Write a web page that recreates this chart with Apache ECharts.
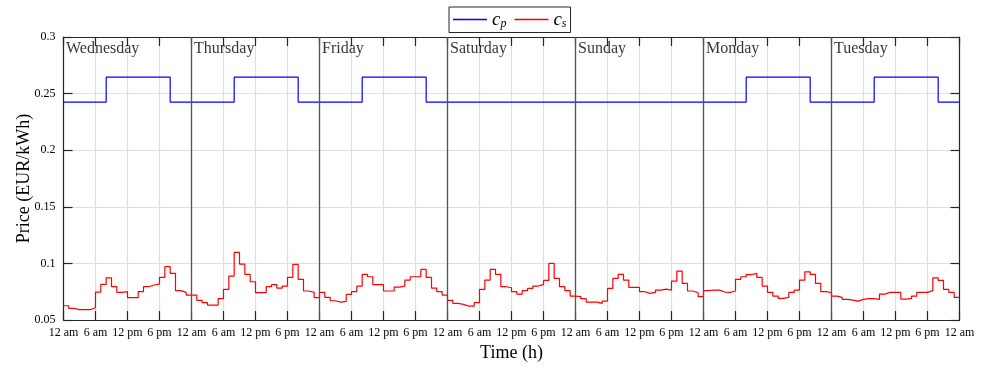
<!DOCTYPE html>
<html>
<head>
<meta charset="utf-8">
<script src="https://cdn.jsdelivr.net/npm/echarts@6/dist/echarts.min.js"></script>
<style>
  html, body { margin: 0; padding: 0; background: #fff; }
  #main { width: 982px; height: 368px; }
</style>
</head>
<body>
<div id="main"></div>
<script>
// day names, one per 24 h block
var days = ['Wednesday', 'Thursday', 'Friday', 'Saturday', 'Sunday', 'Monday', 'Tuesday'];
// x tick labels, repeated every 24 h
var tickLabels = ['12 am', '6 am', '12 pm', '6 pm'];

// c_p : change points (hour) and price from that hour on
var cpHours  = [0, 8, 20, 32, 44, 56, 68, 128, 140, 152, 164, 168];
var cpValues = [0.2425, 0.2645, 0.2425, 0.2645, 0.2425, 0.2645, 0.2425, 0.2645, 0.2425, 0.2645, 0.2425, 0.2425];

// c_s : hourly price, one array per day
var csWed = [0.0626, 0.0602, 0.0591, 0.0591, 0.0591, 0.0608, 0.0747, 0.0814, 0.0873, 0.0794, 0.0744, 0.0750,
             0.0697, 0.0697, 0.0750, 0.0794, 0.0809, 0.0817, 0.0876, 0.0971, 0.0912, 0.0759, 0.0744, 0.0720];
var csThu = [0.0720, 0.0673, 0.0653, 0.0632, 0.0632, 0.0688, 0.0770, 0.0888, 0.1097, 0.0994, 0.0903, 0.0838,
             0.0741, 0.0741, 0.0794, 0.0812, 0.0782, 0.0800, 0.0876, 0.0991, 0.0859, 0.0756, 0.0744, 0.0697];
var csFri = [0.0744, 0.0700, 0.0670, 0.0658, 0.0664, 0.0726, 0.0750, 0.0800, 0.0903, 0.0882, 0.0812, 0.0812,
             0.0756, 0.0756, 0.0791, 0.0800, 0.0853, 0.0882, 0.0882, 0.0947, 0.0876, 0.0782, 0.0750, 0.0720];
var csSat = [0.0673, 0.0647, 0.0638, 0.0623, 0.0623, 0.0653, 0.0770, 0.0853, 0.0947, 0.0903, 0.0794, 0.0785,
             0.0750, 0.0729, 0.0759, 0.0779, 0.0800, 0.0812, 0.0850, 0.1000, 0.0867, 0.0794, 0.0759, 0.0711];
var csSun = [0.0706, 0.0688, 0.0658, 0.0658, 0.0647, 0.0667, 0.0779, 0.0867, 0.0903, 0.0853, 0.0788, 0.0788,
             0.0750, 0.0735, 0.0744, 0.0764, 0.0773, 0.0764, 0.0844, 0.0932, 0.0823, 0.0756, 0.0741, 0.0706];
var csMon = [0.0759, 0.0764, 0.0764, 0.0747, 0.0744, 0.0756, 0.0859, 0.0882, 0.0900, 0.0912, 0.0876, 0.0800,
             0.0744, 0.0711, 0.0691, 0.0700, 0.0744, 0.0764, 0.0853, 0.0926, 0.0903, 0.0823, 0.0750, 0.0741];
var csTue = [0.0711, 0.0700, 0.0682, 0.0676, 0.0667, 0.0682, 0.0688, 0.0688, 0.0682, 0.0729, 0.0744, 0.0744,
             0.0744, 0.0685, 0.0691, 0.0711, 0.0744, 0.0744, 0.0759, 0.0873, 0.0850, 0.0770, 0.0744, 0.0700];

var csValues = [].concat(csWed, csThu, csFri, csSat, csSun, csMon, csTue);

var cpData = cpHours.map(function (h, i) { return [h, cpValues[i]]; });
var csData = csValues.map(function (v, i) { return [i, v]; });
csData.push([csValues.length, csValues[csValues.length - 1]]);

var FONT = 'Liberation Serif';
var AXIS = '#262626';

var dayLines = [];
var dayLabelData = [];
days.forEach(function (d, i) {
    if (i > 0) dayLines.push({ xAxis: i * 24 });
    dayLabelData.push([i * 24, 0.3, d]);
});

var myChart = echarts.init(document.getElementById('main'));

var option = {
    animation: false,
    backgroundColor: '#fff',
    grid: { left: 63.5, right: 22.5, top: 37, bottom: 48 },
    legend: {
        data: [{ name: 'cp', icon: 'rect' }, { name: 'cs', icon: 'rect' }],
        top: 7,
        left: 449,
        padding: [3, 4, 3, 4],
        itemGap: 8,
        itemWidth: 34,
        itemHeight: 1.3,
        borderColor: AXIS,
        borderWidth: 1,
        formatter: function (name) {
            return name === 'cp' ? '{c|c}{s|p}' : '{c|c}{s|s}';
        },
        textStyle: {
            rich: {
                c: { fontFamily: FONT, fontStyle: 'italic', fontSize: 19, color: '#000' },
                s: { fontFamily: FONT, fontStyle: 'italic', fontSize: 12, color: '#000', verticalAlign: 'bottom', padding: [8, 0, 0, 0] }
            }
        }
    },
    xAxis: [{
        type: 'value',
        min: 0,
        max: 168,
        interval: 6,
        name: 'Time (h)',
        nameLocation: 'middle',
        nameGap: 24,
        nameMoveOverlap: false,
        nameTextStyle: { fontFamily: FONT, fontSize: 18, color: '#000' },
        axisLine: { show: true, onZero: false, lineStyle: { color: AXIS, width: 1.2 } },
        axisTick: { show: true, inside: true, length: 9, lineStyle: { color: AXIS, width: 1.2 } },
        axisLabel: {
            margin: 7,
            fontFamily: FONT,
            fontSize: 12,
            color: '#000',
            showMinLabel: true,
            showMaxLabel: true,
            formatter: function (v) { return tickLabels[Math.round(v / 6) % 4]; }
        },
        splitLine: { show: true, lineStyle: { color: '#dedede', width: 1.2 } }
    }, {
        type: 'value',
        position: 'top',
        min: 0,
        max: 168,
        interval: 6,
        axisLine: { show: true, onZero: false, lineStyle: { color: AXIS, width: 1.2 } },
        axisTick: { show: true, inside: true, length: 9, lineStyle: { color: AXIS, width: 1.2 } },
        axisLabel: { show: false },
        splitLine: { show: false }
    }],
    yAxis: [{
        type: 'value',
        min: 0.05,
        max: 0.3,
        interval: 0.05,
        name: 'Price (EUR/kWh)',
        nameLocation: 'middle',
        nameGap: 30,
        nameMoveOverlap: false,
        nameTextStyle: { fontFamily: FONT, fontSize: 18, color: '#000' },
        axisLine: { show: true, onZero: false, lineStyle: { color: AXIS, width: 1.2 } },
        axisTick: { show: true, inside: true, length: 9, lineStyle: { color: AXIS, width: 1.2 } },
        axisLabel: {
            margin: 8,
            fontFamily: FONT,
            fontSize: 12,
            color: '#000',
            formatter: function (v) { return String(+v.toFixed(2)); }
        },
        splitLine: { show: true, lineStyle: { color: '#dedede', width: 1.2 } }
    }, {
        type: 'value',
        position: 'right',
        min: 0.05,
        max: 0.3,
        interval: 0.05,
        axisLine: { show: true, onZero: false, lineStyle: { color: AXIS, width: 1.2 } },
        axisTick: { show: true, inside: true, length: 9, lineStyle: { color: AXIS, width: 1.2 } },
        axisLabel: { show: false },
        splitLine: { show: false }
    }],
    series: [{
        name: 'cp',
        type: 'line',
        step: 'end',
        data: cpData,
        showSymbol: false,
        symbol: 'none',
        color: '#0000ff',
        lineStyle: { color: '#0000ff', width: 1.2 },
        z: 3
    }, {
        name: 'cs',
        type: 'line',
        step: 'end',
        data: csData,
        showSymbol: false,
        symbol: 'none',
        color: '#ff0000',
        lineStyle: { color: '#ff0000', width: 1.2 },
        z: 3,
        markLine: {
            silent: true,
            symbol: 'none',
            label: { show: false },
            lineStyle: { color: '#555', type: 'solid', width: 1.3 },
            data: dayLines
        }
    }, {
        name: 'days',
        type: 'scatter',
        data: dayLabelData,
        symbolSize: 1,
        itemStyle: { color: 'rgba(0,0,0,0)' },
        silent: true,
        z: 4,
        label: {
            show: true,
            position: [3, 4],
            align: 'left',
            verticalAlign: 'top',
            fontFamily: FONT,
            fontSize: 16,
            color: '#000',
            formatter: function (p) { return p.data[2]; }
        }
    }]
};

myChart.setOption(option);
</script>
</body>
</html>
